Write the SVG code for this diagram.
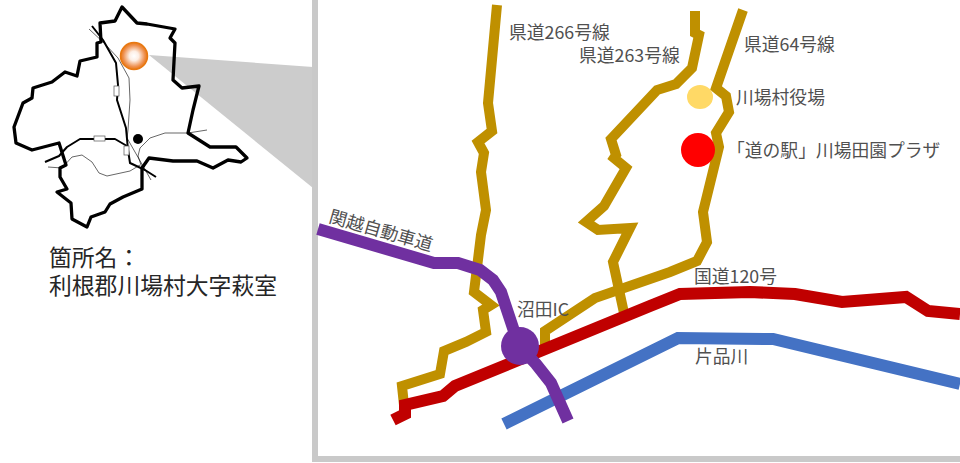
<svg xmlns="http://www.w3.org/2000/svg" width="960" height="463" viewBox="0 0 960 463">
<defs>
<radialGradient id="glow"><stop offset="0" stop-color="#ffffff"/><stop offset="0.35" stop-color="#fdeee4"/><stop offset="0.8" stop-color="#ee8f4e"/><stop offset="1" stop-color="#e87811"/></radialGradient>
</defs>
<style>
text{font-family:"Noto Sans CJK JP","Liberation Sans",sans-serif;font-size:17.8px;fill:#505050}
.k{font-size:22.8px;fill:#262626}
.r{fill:none;stroke-linejoin:miter;stroke-miterlimit:3}
.y{stroke:#bf9000;stroke-width:10}
.m{fill:none;stroke:#000;stroke-linejoin:round}
.b{fill:#fff;stroke:#555;stroke-width:.7}
</style>
<rect width="960" height="463" fill="#fff"/>
<g id="callout">
<polygon points="149,55 313,67 313,188" fill="#cccccc"/>
<path d="M315,0V459H960" fill="none" stroke="#c9c9c9" stroke-width="6"/>
</g>
<g id="locator-map">
<path class="m" stroke-width="3.3" d="M122,7L137,23L147,24L175,29L170,38L175,43L173,80L182,88L199,86L193,110L188,133L210,147L236,147L247,158L241,162L228,160L213,168L197,161L173,161L149,158L142,168L142,189L123,197L110,204L105,212L91,217L87,227L72,219L71,203L57,192L67,189L60,177L60,168L66,165L59,143L32,150L16,143L14,127L23,103L32,98L33,88L52,82L65,72L77,76L80,61L97,57L97,43L101,42L100,23L115,21Z"/>
<path class="m" stroke-width="2" d="M92,26L103,40L116,63L118,85L117,100L126,128L128,150L130,163L145,170L156,177"/>
<path class="m" stroke-width="2" d="M45,162L59,156L67,147L80,139L100,139L115,139L127,146"/>
<path class="m" stroke-width=".6" d="M89,29L104,43L118,58L129,78L130,100L128,130L127,138L143,166L151,180"/>
<path class="m" stroke-width=".6" d="M188,133L207,130M188,133L165,133L150,138L140,148L138,156L142,168"/>
<path class="m" stroke-width=".6" d="M48,167L62,168L72,157L82,155L92,162L99,173L107,176L130,171L140,165"/>
<rect class="b" x="114" y="86" width="5" height="10"/>
<rect class="b" x="94" y="136" width="11" height="5"/>
<rect class="b" x="124" y="146" width="5" height="9"/>
<circle cx="138" cy="139" r="5" fill="#000"/>
<circle cx="134" cy="56" r="13.5" fill="url(#glow)" stroke="#e87811" stroke-width="1.5"/>
</g>
<g id="location-name">
<text class="k"><tspan x="49" y="266">箇所名：</tspan><tspan x="49" y="294">利根郡川場村大字萩室</tspan></text>
</g>
<g id="connectors">
<path id="r266" class="r y" d="M497,5L488,103L492,131L478,142L484,153L481,172L486,210L481,235L474,292L491,305L483,310L486,332L466,342L444,351L440,374L402,386L404,405"/>
<path id="r263" class="r y" d="M695,11L695,33L699,35L692,68L676,84L657,90L611,139L616,155L614,158L626,168L604,206L586,222L598,230L630,228L613,262L624,313"/>
<path id="r64" class="r y" d="M743,10L716,88L726,96L729,112L716,133L719,147L703,212L707,242L697,261L670,272L595,298L545,331L545,347"/>
<path id="river" class="r" stroke="#4472c4" stroke-width="12" d="M504,424L678,338L773,339L960,384"/>
<path id="r120" class="r" stroke="#c00000" stroke-width="12" d="M393,420L405,414L405,405L443,396L455,386L650,306L680,294L750,292L795,294L842,302L906,297L928,311L960,314"/>
<path id="expressway" class="r" stroke="#7030a0" stroke-width="12" stroke-linejoin="round" d="M318,229L434,263L458,263L480,270L493,280L501,292L519,346L536,364L551,383L568,421"/>
</g>
<g id="numata-ic"><circle cx="520" cy="346" r="19" fill="#7030a0"/><text x="517" y="316">沼田IC</text></g>
<g id="village-office"><ellipse cx="700" cy="97" rx="13" ry="12" fill="#ffd966"/><text x="736" y="104">川場村役場</text></g>
<g id="michinoeki"><circle cx="698" cy="150" r="17" fill="#ff0000"/><text x="727" y="157">「道の駅」川場田園プラザ</text></g>
<g id="labels">
<text x="509" y="39">県道266号線</text>
<text x="579" y="62">県道263号線</text>
<text x="744" y="51">県道64号線</text>
<text x="694" y="283">国道120号</text>
<text x="695" y="363">片品川</text>
<text x="328" y="222" transform="rotate(16 328 222)">関越自動車道</text>
</g>
</svg>
